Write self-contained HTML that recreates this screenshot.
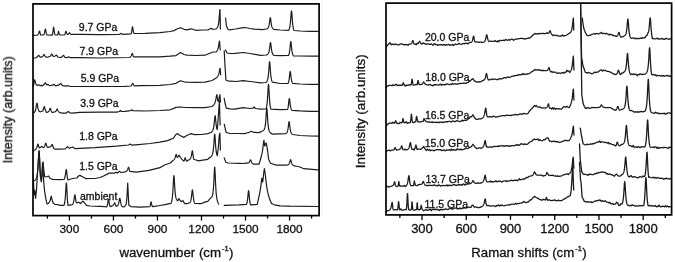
<!DOCTYPE html>
<html><head><meta charset="utf-8"><style>
html,body{margin:0;padding:0;background:#fff;width:675px;height:262px;overflow:hidden}
svg{display:block}
text{font-family:"Liberation Sans",sans-serif}
</style></head><body>
<svg width="675" height="262" viewBox="0 0 675 262">
<rect width="675" height="262" fill="#fff"/>
<defs>
<clipPath id="cl"><rect x="33.0" y="3.9" width="286.1" height="211.7"/></clipPath>
<clipPath id="cr"><rect x="386.0" y="3.1" width="285.6" height="211.8"/></clipPath>
</defs>
<g fill="none" stroke="#1c1c1c" stroke-width="1.2" stroke-linejoin="round" stroke-linecap="round">
<g clip-path="url(#cl)">
<polyline points="33.00,35.30 37.00,35.20 37.21,35.10 37.41,34.97 37.62,34.81 37.82,34.62 38.03,34.38 38.23,34.08 38.44,33.70 38.64,33.23 38.85,32.66 39.06,32.02 39.26,31.41 39.47,30.99 39.67,30.98 39.88,31.94 40.08,33.14 40.29,34.04 40.49,34.62 40.70,35.00 43.60,35.00 43.81,34.68 44.02,34.25 44.24,33.69 44.45,32.95 44.66,32.01 44.88,30.90 45.09,29.81 45.30,29.09 45.51,29.15 45.73,30.06 45.94,31.33 46.15,32.51 46.36,33.44 46.58,34.12 46.79,34.63 47.00,35.00 52.20,35.10 52.40,34.56 52.60,33.82 52.80,32.79 53.00,31.38 53.20,29.63 53.40,27.95 53.60,27.20 53.80,27.77 54.00,29.15 54.20,30.71 54.40,32.08 54.60,33.15 54.80,33.96 55.00,34.55 55.20,35.00 57.50,35.00 57.71,34.60 57.92,33.96 58.13,32.95 58.34,31.75 58.55,31.32 58.75,31.91 58.96,32.86 59.17,33.69 59.38,34.30 59.59,34.71 59.80,35.00 64.30,35.00 64.51,34.77 64.71,34.46 64.92,34.05 65.12,33.52 65.33,32.84 65.54,32.09 65.74,31.48 65.95,31.31 66.16,31.63 66.36,32.25 66.57,32.89 66.77,33.45 66.98,33.88 67.19,34.20 67.39,34.43 67.60,34.60 68.70,33.80 69.60,32.70 70.40,34.00 71.50,34.30 80.00,34.40 100.00,34.60 119.00,34.50 121.20,33.40 123.00,34.40 131.00,33.80 131.20,33.35 131.40,32.74 131.60,31.92 131.80,30.81 132.00,29.42 132.20,27.93 132.40,26.86 132.60,26.84 132.80,27.87 133.00,29.32 133.20,30.67 133.40,31.74 133.60,32.52 133.80,33.09 134.00,33.50 145.00,33.30 160.00,32.60 170.00,31.50 174.00,30.60 177.00,29.00 180.50,27.70 184.00,29.30 187.00,29.90 191.30,28.80 195.60,30.30 203.00,30.00 208.00,30.00 209.60,29.00 211.10,28.20 212.60,29.30 215.70,29.00 215.90,28.90 216.11,28.78 216.31,28.65 216.52,28.49 216.72,28.30 216.93,28.09 217.13,27.83 217.33,27.52 217.54,27.14 217.74,26.68 217.95,26.11 218.15,25.40 218.36,24.50 218.56,23.36 218.77,21.91 218.97,20.09 219.17,17.84 219.38,15.23 219.58,12.55 219.79,10.39 219.99,9.50 220.20,18.59 220.40,29.00"/>
<polyline points="225.60,18.00 226.40,26.00 227.90,29.30 229.40,29.80 235.50,29.00 241.60,27.80 245.00,27.50 250.00,28.50 254.00,29.20 258.50,29.40 262.00,29.60 266.50,29.00 266.70,28.93 266.91,28.84 267.11,28.73 267.31,28.60 267.51,28.45 267.72,28.26 267.92,28.03 268.12,27.74 268.32,27.39 268.53,26.94 268.73,26.37 268.93,25.64 269.14,24.72 269.34,23.56 269.54,22.16 269.74,20.58 269.95,19.05 270.15,17.97 270.35,17.74 270.55,18.46 270.76,19.85 270.96,21.48 271.16,23.01 271.36,24.32 271.57,25.38 271.77,26.22 271.97,26.88 272.18,27.41 272.38,27.83 272.58,28.17 272.78,28.45 272.99,28.68 273.19,28.88 273.39,29.04 273.59,29.18 273.80,29.30 274.00,29.40 280.00,30.00 288.60,30.30 288.81,29.98 289.02,29.59 289.22,29.11 289.43,28.51 289.64,27.76 289.85,26.80 290.05,25.59 290.26,24.03 290.47,22.06 290.68,19.63 290.88,16.80 291.09,13.91 291.30,11.64 291.51,10.80 291.72,11.82 291.92,14.27 292.13,17.30 292.34,20.22 292.55,22.72 292.75,24.75 292.96,26.35 293.17,27.60 293.38,28.59 293.58,29.37 293.79,29.99 294.00,30.50 300.00,31.00 310.00,31.30 318.00,31.40"/>
<polyline points="33.00,58.00 36.00,57.80 37.50,56.50 38.80,55.30 40.20,57.20 40.40,57.18 40.61,57.16 40.81,57.13 41.01,57.10 41.21,57.06 41.42,57.01 41.62,56.94 41.82,56.87 42.03,56.77 42.23,56.65 42.43,56.50 42.63,56.30 42.84,56.05 43.04,55.74 43.24,55.38 43.44,55.00 43.65,54.67 43.85,54.51 44.05,54.57 44.26,54.84 44.46,55.21 44.66,55.60 44.86,55.94 45.07,56.22 45.27,56.45 45.47,56.63 45.67,56.77 45.88,56.89 46.08,56.98 46.28,57.05 46.49,57.11 46.69,57.16 46.89,57.21 47.09,57.24 47.30,57.27 47.50,57.30 50.30,56.20 51.80,54.10 53.30,56.50 55.20,56.00 56.50,55.10 57.80,57.00 61.00,57.60 62.50,56.20 63.60,55.30 64.80,57.30 67.50,57.60 68.80,56.80 70.00,57.60 80.00,57.70 100.00,58.00 129.50,57.50 129.70,57.40 129.91,57.29 130.11,57.15 130.32,57.00 130.52,56.81 130.73,56.58 130.93,56.30 131.14,55.95 131.34,55.52 131.55,55.01 131.75,54.44 131.96,53.89 132.16,53.50 132.37,53.42 132.57,53.88 132.78,54.63 132.98,55.35 133.19,55.91 133.39,56.31 133.60,56.60 133.80,56.80 140.00,56.90 159.80,56.90 170.00,56.20 176.00,55.60 180.50,52.50 184.00,54.50 187.00,55.10 195.60,55.50 205.00,55.20 213.00,52.00 216.20,51.90 216.41,51.70 216.61,51.48 216.81,51.23 217.02,50.95 217.22,50.63 217.43,50.25 217.63,49.81 217.84,49.28 218.04,48.62 218.25,47.82 218.46,46.82 218.66,45.62 218.87,44.23 219.07,42.80 219.28,41.60 219.48,41.01 219.69,42.98 219.89,46.53 220.09,48.79 220.30,50.00"/>
<polyline points="225.50,50.00 227.00,53.00 230.00,53.50 235.00,53.30 243.20,52.50 250.00,53.50 260.50,55.30 266.00,55.00 266.20,54.95 266.40,54.90 266.60,54.83 266.80,54.76 267.00,54.67 267.20,54.56 267.40,54.43 267.60,54.28 267.80,54.10 268.00,53.88 268.20,53.60 268.40,53.27 268.60,52.84 268.80,52.31 269.00,51.64 269.20,50.79 269.40,49.71 269.60,48.38 269.80,46.79 270.00,45.07 270.20,43.50 270.40,42.53 270.60,42.54 270.80,43.56 271.00,45.20 271.20,47.00 271.40,48.65 271.60,50.05 271.80,51.18 272.00,52.08 272.20,52.79 272.40,53.36 272.60,53.81 272.80,54.18 273.00,54.48 273.20,54.73 273.40,54.94 273.60,55.12 273.80,55.27 274.00,55.40 280.00,55.60 288.50,55.50 288.70,55.08 288.90,54.55 289.10,53.89 289.30,53.05 289.50,51.98 289.70,50.64 289.90,48.97 290.10,46.99 290.30,44.83 290.50,42.87 290.70,41.66 290.90,41.67 291.10,42.85 291.30,44.75 291.50,46.83 291.70,48.75 291.90,50.37 292.10,51.68 292.30,52.72 292.50,53.55 292.70,54.20 292.90,54.73 293.10,55.16 293.30,55.51 293.50,55.80 300.00,56.00 310.00,56.20 318.00,56.20"/>
<polyline points="33.20,86.00 33.40,85.56 33.61,84.94 33.81,84.09 34.02,82.94 34.22,81.53 34.43,80.25 34.63,79.80 34.84,80.13 35.04,80.84 35.25,81.69 35.45,82.51 35.66,83.20 35.86,83.75 36.07,84.18 36.27,84.51 36.48,84.77 36.68,84.97 36.89,85.12 37.09,85.24 37.30,85.33 37.50,85.40 38.80,84.80 40.00,85.60 41.30,85.40 42.50,85.80 44.50,84.00 45.50,82.70 46.60,84.80 48.10,84.40 49.50,85.60 50.60,85.50 52.50,85.20 54.00,84.40 55.50,85.80 58.50,85.20 60.70,83.50 62.50,85.60 66.00,86.20 68.20,85.70 70.00,86.30 100.00,86.50 125.00,86.40 131.00,86.00 132.70,83.30 134.20,85.80 140.00,85.60 159.80,85.40 170.00,84.50 176.00,83.30 180.50,80.70 184.00,81.80 187.00,82.20 195.60,82.40 205.00,82.20 212.00,80.50 216.20,77.90 216.40,77.72 216.60,77.54 216.80,77.35 217.00,77.14 217.20,76.92 217.40,76.68 217.60,76.42 217.80,76.13 218.00,75.80 218.20,75.42 218.40,74.98 218.60,74.46 218.80,73.83 219.00,73.08 219.20,72.17 219.40,71.11 219.60,69.98 219.80,68.94 220.00,68.24 220.20,68.73 220.40,71.80 220.60,73.94 220.80,75.00"/>
<polyline points="224.20,50.80 224.80,62.00 225.90,80.00 228.00,81.00 230.20,81.10 236.00,81.50 243.20,80.70 250.00,81.50 260.50,82.80 266.00,82.50 266.20,82.31 266.41,82.09 266.61,81.83 266.81,81.52 267.02,81.14 267.22,80.70 267.42,80.15 267.62,79.47 267.83,78.62 268.03,77.55 268.23,76.20 268.44,74.49 268.64,72.35 268.84,69.76 269.05,66.86 269.25,64.05 269.45,62.08 269.66,61.67 269.86,63.05 270.06,65.67 270.27,68.69 270.47,71.54 270.67,73.95 270.88,75.90 271.08,77.45 271.28,78.66 271.48,79.61 271.69,80.37 271.89,80.98 272.09,81.47 272.30,81.87 272.50,82.20 280.00,83.50 288.00,83.50 288.20,83.07 288.40,82.55 288.60,81.89 288.80,81.05 289.00,80.00 289.20,78.69 289.40,77.09 289.60,75.26 289.80,73.42 290.00,71.97 290.20,71.40 290.40,71.93 290.60,73.33 290.80,75.10 291.00,76.86 291.20,78.40 291.40,79.66 291.60,80.67 291.80,81.46 292.00,82.09 292.20,82.58 292.40,82.98 292.60,83.30 300.00,84.00 310.00,84.30 318.00,84.30"/>
<polyline points="33.20,113.20 33.40,113.09 33.61,112.96 33.81,112.81 34.01,112.65 34.21,112.46 34.42,112.25 34.62,111.99 34.82,111.68 35.03,111.30 35.23,110.84 35.43,110.27 35.63,109.55 35.84,108.65 36.04,107.56 36.24,106.27 36.44,104.92 36.65,103.75 36.85,103.13 37.05,103.30 37.26,104.17 37.46,105.40 37.66,106.66 37.86,107.79 38.07,108.71 38.27,109.43 38.47,110.00 38.67,110.44 38.88,110.78 39.08,111.04 39.28,111.24 39.49,111.40 39.69,111.53 39.89,111.62 40.09,111.70 40.30,111.76 40.50,111.80 42.80,111.00 43.60,108.50 44.30,106.50 45.20,109.50 46.40,112.40 46.60,112.37 46.80,112.33 47.00,112.29 47.20,112.24 47.40,112.19 47.60,112.12 47.80,112.04 48.00,111.94 48.20,111.83 48.40,111.68 48.60,111.50 48.80,111.27 49.00,110.99 49.20,110.63 49.40,110.19 49.60,109.66 49.80,109.09 50.00,108.57 50.20,108.25 50.40,108.27 50.60,108.77 50.80,109.52 51.00,110.27 51.20,110.91 51.40,111.41 51.60,111.79 51.80,112.08 52.00,112.30 55.00,111.80 55.20,111.71 55.40,111.59 55.60,111.43 55.80,111.22 56.00,110.94 56.20,110.59 56.40,110.16 56.60,109.69 56.80,109.27 57.00,109.02 57.20,109.05 57.40,109.34 57.60,109.77 57.80,110.24 58.00,110.68 58.20,111.06 58.40,111.37 58.60,111.62 58.80,111.83 59.00,112.01 59.20,112.15 59.40,112.28 59.60,112.39 59.80,112.49 60.00,112.58 60.20,112.66 60.40,112.73 60.60,112.80 60.80,112.87 61.00,112.93 61.20,112.99 61.40,113.04 61.60,113.10 61.80,113.15 62.00,113.20 66.10,113.20 68.20,111.50 70.00,112.80 72.00,113.20 80.00,112.40 80.00,112.30 100.00,112.20 116.50,112.20 119.50,111.50 120.40,110.50 121.50,111.50 125.00,111.30 130.50,110.60 131.70,109.90 133.00,110.60 145.00,111.00 159.80,110.50 170.00,109.80 173.80,108.40 176.00,107.40 180.50,107.00 185.00,107.50 195.60,107.70 205.00,107.60 212.00,106.50 212.20,106.31 212.41,106.12 212.61,105.92 212.81,105.72 213.02,105.51 213.22,105.29 213.42,105.07 213.63,104.83 213.83,104.57 214.03,104.30 214.24,104.00 214.44,103.67 214.64,103.31 214.85,102.89 215.05,102.41 215.25,101.84 215.45,101.17 215.66,100.35 215.86,99.37 216.06,98.23 216.27,96.97 216.47,95.78 216.67,94.93 216.88,94.75 217.08,95.72 217.28,97.29 217.49,98.77 217.69,99.91 217.89,100.71 218.10,101.25 218.30,101.60 219.90,94.70 220.60,102.00"/>
<polyline points="224.20,98.40 225.00,103.00 226.30,108.10 230.00,108.80 234.60,109.20 243.20,107.70 250.00,108.50 253.00,108.10 254.00,107.00 255.50,108.50 260.50,109.20 266.00,109.00 266.20,108.39 266.41,107.63 266.61,106.69 266.82,105.50 267.02,103.99 267.23,102.06 267.43,99.62 267.63,96.61 267.84,93.05 268.04,89.28 268.25,86.04 268.45,84.37 268.65,84.98 268.86,87.63 269.06,91.32 269.27,95.11 269.47,98.46 269.67,101.23 269.88,103.43 270.08,105.17 270.29,106.54 270.49,107.63 270.70,108.50 270.90,109.20 280.00,109.60 287.50,109.50 287.71,108.93 287.92,108.17 288.13,107.17 288.34,105.84 288.55,104.14 288.76,102.11 288.97,100.06 289.18,98.64 289.39,98.51 289.60,99.51 289.80,101.16 290.01,102.96 290.22,104.61 290.43,105.98 290.64,107.08 290.85,107.95 291.06,108.64 291.27,109.19 291.48,109.64 291.69,110.00 291.90,110.30 300.00,110.90 310.00,111.30 318.00,111.40"/>
<polyline points="33.20,151.00 33.41,150.88 33.61,150.76 33.82,150.63 34.03,150.50 34.23,150.37 34.44,150.23 34.65,150.09 34.85,149.94 35.06,149.78 35.27,149.61 35.47,149.42 35.68,149.22 35.89,148.99 36.09,148.74 36.30,148.44 36.51,148.09 36.71,147.67 36.92,147.17 37.13,146.57 37.33,145.88 37.54,145.15 37.75,144.51 37.95,144.13 38.16,144.30 38.37,145.13 38.57,146.07 38.78,146.83 38.99,147.35 39.19,147.69 39.40,147.90 41.00,147.00 41.80,146.60 43.40,147.60 43.60,147.47 43.80,147.32 44.00,147.13 44.20,146.89 44.40,146.60 44.60,146.23 44.80,145.76 45.00,145.20 45.20,144.56 45.40,143.91 45.60,143.40 45.80,143.20 46.00,143.44 46.20,144.06 46.40,144.82 46.60,145.53 46.80,146.11 47.00,146.57 47.20,146.92 47.40,147.19 47.60,147.40 49.30,147.20 50.80,146.50 51.60,145.00 52.30,144.50 53.20,147.00 54.00,148.70 55.20,149.10 60.00,149.20 65.30,149.00 66.50,147.50 67.60,146.60 68.50,147.80 69.50,148.30 71.00,147.50 72.90,147.00 74.00,148.00 75.40,148.60 80.00,148.30 94.90,147.70 116.50,146.20 128.50,145.00 130.20,144.00 132.00,145.20 138.20,144.70 150.00,143.50 159.80,142.20 167.60,140.60 173.30,138.30 175.50,135.00 177.20,133.60 180.00,135.50 183.80,137.40 186.70,135.50 189.00,134.50 191.50,133.60 194.30,134.70 201.90,134.50 207.70,133.60 211.50,132.20 211.70,131.99 211.90,131.75 212.10,131.48 212.30,131.19 212.50,130.85 212.70,130.45 212.90,129.99 213.10,129.44 213.30,128.78 213.50,127.97 213.70,126.97 213.90,125.72 214.10,124.18 214.30,122.33 214.50,120.22 214.70,118.09 214.90,116.41 215.10,115.70 215.30,116.31 215.50,118.02 215.70,120.22 215.90,122.39 216.10,124.29 216.30,125.83 216.50,127.04 216.70,127.98 216.90,128.71 217.10,129.27 217.30,129.70 218.20,118.00 219.40,100.50 220.10,125.00"/>
<polyline points="224.30,124.30 225.50,130.00 226.30,132.50 230.00,133.50 238.90,133.50 244.80,133.60 246.70,133.00 249.20,132.30 251.50,131.30 253.40,132.30 259.10,132.60 262.90,130.70 263.10,130.59 263.31,130.46 263.51,130.29 263.71,130.08 263.91,129.82 264.12,129.51 264.32,129.11 264.52,128.61 264.73,127.99 264.93,127.20 265.13,126.19 265.33,124.90 265.54,123.25 265.74,121.15 265.94,118.54 266.15,115.48 266.35,112.24 266.55,109.50 266.75,108.14 266.96,108.77 267.16,111.17 267.36,114.49 267.57,117.90 267.77,120.92 267.97,123.43 268.17,125.44 268.38,127.03 268.58,128.30 268.78,129.32 268.99,130.15 269.19,130.82 269.39,131.38 269.59,131.85 269.80,132.25 270.00,132.60 272.40,134.20 285.80,133.60 286.00,133.49 286.21,133.35 286.41,133.17 286.61,132.96 286.82,132.69 287.02,132.35 287.22,131.92 287.42,131.37 287.63,130.68 287.83,129.78 288.03,128.65 288.24,127.23 288.44,125.57 288.64,123.81 288.85,122.30 289.05,121.53 289.25,121.83 289.45,123.07 289.66,124.81 289.86,126.60 290.06,128.19 290.27,129.51 290.47,130.57 290.67,131.42 290.88,132.09 291.08,132.62 291.28,133.06 291.48,133.41 291.69,133.71 291.89,133.95 292.09,134.16 292.30,134.34 292.50,134.50 300.00,135.50 310.00,136.00 318.00,136.20"/>
<polyline points="33.00,181.00 35.00,180.50 35.20,180.24 35.41,179.96 35.61,179.64 35.81,179.29 36.02,178.89 36.22,178.42 36.42,177.89 36.63,177.26 36.83,176.51 37.04,175.61 37.24,174.50 37.44,173.13 37.65,171.42 37.85,169.27 38.05,166.58 38.26,163.28 38.46,159.45 38.66,155.46 38.87,152.13 39.07,150.54 39.28,152.03 39.48,156.78 39.68,162.45 39.89,167.46 40.09,171.38 40.29,174.29 40.50,176.43 40.70,178.00 41.80,176.00 42.50,168.00 43.10,162.00 43.80,170.00 44.70,176.70 46.00,177.00 47.50,176.50 48.70,176.00 50.00,178.50 53.00,179.40 60.00,179.60 64.00,179.50 64.20,179.21 64.40,178.83 64.60,178.36 64.80,177.76 65.00,177.00 65.20,176.02 65.40,174.81 65.60,173.37 65.80,171.81 66.00,170.38 66.20,169.51 66.40,169.59 66.60,170.88 66.80,172.80 67.00,174.73 67.20,176.38 67.40,177.67 67.60,178.66 67.80,179.42 68.00,180.00 72.40,178.50 76.80,178.00 78.50,176.00 80.00,175.40 82.00,176.50 86.20,178.70 90.00,178.50 94.90,178.50 100.00,177.50 104.00,175.80 109.40,173.10 114.70,173.10 116.20,172.20 117.40,173.10 119.20,171.30 121.00,172.50 123.70,172.20 123.90,172.16 124.11,172.11 124.31,172.06 124.51,172.01 124.72,171.96 124.92,171.90 125.12,171.83 125.33,171.76 125.53,171.69 125.73,171.60 125.94,171.51 126.14,171.40 126.34,171.27 126.55,171.11 126.75,170.93 126.95,170.71 127.15,170.44 127.36,170.09 127.56,169.67 127.76,169.16 127.97,168.57 128.17,167.96 128.37,167.45 128.58,167.21 128.78,167.51 128.98,168.39 129.19,169.34 129.39,170.10 129.59,170.65 129.80,171.03 130.00,171.30 136.30,172.20 148.90,170.40 160.00,167.70 164.40,165.00 170.30,163.00 173.30,160.30 173.51,160.09 173.72,159.87 173.93,159.64 174.14,159.37 174.35,159.08 174.56,158.75 174.77,158.36 174.98,157.90 175.19,157.36 175.40,156.72 175.61,156.01 175.82,155.30 176.03,154.73 176.24,154.49 176.45,154.96 176.66,155.81 176.87,156.54 177.08,157.04 177.29,157.34 177.50,157.50 179.10,155.10 180.50,157.50 181.90,159.30 183.80,161.20 184.01,160.96 184.21,160.63 184.42,160.15 184.63,159.50 184.84,158.71 185.04,158.00 185.25,157.82 185.46,158.25 185.66,158.98 185.87,159.69 186.08,160.26 186.29,160.68 186.49,160.98 186.70,161.20 188.60,160.00 188.80,159.91 189.01,159.80 189.21,159.69 189.42,159.55 189.62,159.40 189.82,159.22 190.03,159.00 190.23,158.75 190.43,158.43 190.64,158.05 190.84,157.57 191.05,156.97 191.25,156.21 191.45,155.27 191.66,154.14 191.86,152.89 192.07,151.69 192.27,150.88 192.47,150.79 192.68,151.98 192.88,153.84 193.08,155.61 193.29,157.00 193.49,158.03 193.70,158.77 193.90,159.30 198.10,160.80 207.70,159.30 211.10,156.50 211.30,156.28 211.50,156.04 211.70,155.75 211.90,155.41 212.10,155.01 212.30,154.53 212.50,153.96 212.70,153.25 212.90,152.37 213.10,151.27 213.30,149.90 213.50,148.16 213.70,146.00 213.90,143.37 214.10,140.36 214.30,137.33 214.50,134.94 214.70,134.00 214.90,134.95 215.10,137.44 215.30,140.62 215.50,143.77 215.70,146.52 215.90,148.77 216.10,150.57 216.30,151.98 216.50,153.10 216.70,153.98 216.90,154.68 217.10,155.24 217.30,155.70 218.30,148.00 219.20,136.00 219.90,133.00 220.40,150.00"/>
<polyline points="224.20,157.90 225.90,162.20 228.00,163.00 238.90,163.30 243.20,163.50 245.70,163.20 245.90,163.21 246.11,163.22 246.31,163.22 246.51,163.22 246.71,163.22 246.92,163.21 247.12,163.20 247.32,163.18 247.52,163.16 247.73,163.13 247.93,163.08 248.13,163.02 248.33,162.94 248.54,162.83 248.74,162.70 248.94,162.52 249.14,162.29 249.35,161.98 249.55,161.60 249.75,161.13 249.96,160.61 250.16,160.10 250.36,159.76 250.56,159.73 250.77,160.03 250.97,160.57 251.17,161.19 251.37,161.77 251.58,162.26 251.78,162.67 251.98,162.99 252.18,163.26 252.39,163.47 252.59,163.64 252.79,163.79 252.99,163.91 253.20,164.01 253.40,164.10 259.10,164.10 259.30,163.42 259.51,162.74 259.71,162.05 259.91,161.36 260.12,160.66 260.32,159.95 260.53,159.23 260.73,158.49 260.93,157.74 261.14,156.97 261.34,156.18 261.54,155.35 261.75,154.48 261.95,153.56 262.15,152.57 262.36,151.49 262.56,150.29 262.76,148.94 262.97,147.41 263.17,145.71 263.38,143.90 263.58,142.16 263.78,140.80 263.99,140.40 264.19,142.51 264.39,144.57 264.60,145.64 264.80,146.00 265.60,143.50 266.30,143.10 267.00,147.00 267.70,151.70 268.60,159.30 270.50,163.20 276.30,165.10 285.80,165.10 286.00,165.10 286.20,165.09 286.41,165.08 286.61,165.07 286.81,165.05 287.01,165.03 287.21,165.00 287.42,164.96 287.62,164.91 287.82,164.85 288.02,164.77 288.23,164.66 288.43,164.53 288.63,164.37 288.83,164.16 289.03,163.89 289.24,163.54 289.44,163.10 289.64,162.54 289.84,161.86 290.04,161.09 290.25,160.34 290.45,159.82 290.65,159.72 290.85,160.09 291.06,160.79 291.26,161.61 291.46,162.38 291.66,163.04 291.86,163.58 292.07,164.02 292.27,164.36 292.47,164.64 292.67,164.86 292.87,165.04 293.08,165.20 293.28,165.33 293.48,165.43 293.68,165.53 293.89,165.61 294.09,165.69 294.29,165.75 294.49,165.81 294.69,165.86 294.90,165.91 295.10,165.96 295.30,166.00 300.00,167.00 303.80,168.70 318.00,169.80"/>
<polyline points="33.00,175.00 33.50,182.00 34.00,194.80 34.20,194.36 34.40,193.22 34.60,191.20 34.80,190.00 35.00,192.08 35.20,194.97 35.40,196.98 35.60,198.30 36.50,190.00 37.20,178.00 38.00,165.00 38.70,155.00 39.10,151.00 39.70,160.00 40.50,178.00 41.30,182.00 41.50,180.95 41.71,179.08 41.91,176.06 42.11,171.61 42.32,166.27 42.52,162.64 42.72,163.38 42.93,166.28 43.13,170.24 43.34,174.39 43.54,178.21 43.74,181.51 43.95,184.31 44.15,186.69 44.35,188.72 44.56,190.50 44.76,192.08 44.96,193.50 45.17,194.80 45.37,196.01 45.58,197.15 45.78,198.23 45.98,199.26 46.19,200.26 46.39,201.23 46.59,202.17 46.80,203.10 47.00,204.00 48.40,203.50 50.00,201.00 51.20,196.20 52.30,200.50 53.30,203.20 55.00,204.30 58.20,204.70 60.40,205.40 64.00,205.40 64.20,204.76 64.41,203.98 64.61,202.99 64.82,201.74 65.03,200.15 65.23,198.13 65.44,195.59 65.64,192.51 65.84,189.05 66.05,185.69 66.25,183.35 66.46,182.94 66.66,185.30 66.87,189.41 67.07,193.73 67.28,197.41 67.48,200.31 67.69,202.50 67.89,204.15 68.10,205.40 72.40,204.70 72.61,204.39 72.82,204.02 73.03,203.57 73.24,203.04 73.45,202.37 73.66,201.55 73.87,200.52 74.08,199.28 74.29,197.84 74.50,196.38 74.71,195.24 74.92,194.80 75.13,195.46 75.34,196.97 75.55,198.64 75.76,200.07 75.97,201.18 76.18,201.99 76.39,202.58 76.60,203.00 78.70,202.20 79.40,202.50 80.50,203.50 83.00,201.10 83.70,201.80 86.50,205.40 90.00,206.00 100.00,206.30 104.80,206.60 106.70,207.00 106.91,206.56 107.12,206.00 107.34,205.26 107.55,204.29 107.76,203.07 107.97,201.63 108.18,200.20 108.39,199.24 108.61,199.22 108.82,200.13 109.03,201.52 109.24,202.91 109.45,204.08 109.66,205.00 109.88,205.69 110.09,206.21 110.30,206.60 113.00,205.50 114.00,204.00 114.70,202.70 115.50,205.00 116.20,206.30 116.41,206.25 116.61,206.18 116.82,206.10 117.03,205.99 117.23,205.86 117.44,205.70 117.64,205.49 117.85,205.23 118.06,204.89 118.26,204.46 118.47,203.90 118.67,203.18 118.88,202.28 119.09,201.20 119.29,200.01 119.50,198.92 119.71,198.27 119.91,198.33 120.12,199.10 120.33,200.29 120.53,201.56 120.74,202.71 120.94,203.66 121.15,204.43 121.36,205.04 121.56,205.52 121.77,205.90 121.97,206.21 122.18,206.46 122.39,206.67 122.59,206.85 122.80,207.00 124.60,206.60 126.30,204.00 127.10,195.00 127.70,183.00 128.30,195.00 128.80,205.00 130.90,206.60 139.90,207.20 149.80,206.60 150.01,206.19 150.22,205.59 150.42,204.68 150.63,203.45 150.84,202.21 151.05,201.82 151.25,202.42 151.46,203.45 151.67,204.46 151.88,205.27 152.08,205.86 152.29,206.29 152.50,206.60 160.00,205.50 165.00,204.70 171.00,203.30 171.20,202.79 171.41,202.19 171.61,201.47 171.81,200.60 172.01,199.54 172.22,198.23 172.42,196.58 172.62,194.51 172.83,191.91 173.03,188.72 173.23,184.97 173.44,180.98 173.64,177.51 173.84,175.62 174.04,176.03 174.25,178.43 174.45,181.90 174.65,185.51 174.86,188.72 175.06,191.37 175.26,193.47 175.46,195.11 175.67,196.39 175.87,197.39 176.07,198.17 176.28,198.78 176.48,199.27 176.68,199.66 176.89,199.97 177.09,200.22 177.29,200.42 177.49,200.58 177.70,200.70 177.90,200.80 178.90,198.50 180.90,201.70 182.90,200.50 183.90,202.50 184.90,203.70 186.90,203.70 189.90,202.70 190.10,202.40 190.31,202.01 190.51,201.53 190.72,200.92 190.92,200.13 191.12,199.13 191.33,197.85 191.53,196.26 191.74,194.39 191.94,192.40 192.15,190.70 192.35,189.83 192.55,190.18 192.76,191.61 192.96,193.59 193.17,195.63 193.37,197.44 193.58,198.93 193.78,200.13 193.98,201.07 194.19,201.82 194.39,202.42 194.60,202.91 194.80,203.30 200.80,203.70 204.80,202.10 207.70,201.40 210.70,197.80 210.90,197.74 211.10,197.65 211.30,197.52 211.50,197.34 211.70,197.10 211.90,196.79 212.10,196.38 212.30,195.85 212.50,195.16 212.70,194.28 212.90,193.15 213.10,191.68 213.30,189.78 213.50,187.34 213.70,184.25 213.90,180.45 214.10,176.08 214.30,171.66 214.50,168.23 214.70,167.00 214.90,168.54 215.10,172.29 215.30,177.02 215.50,181.71 215.70,185.82 215.90,189.23 216.10,191.99 216.30,194.20 216.50,195.98 216.70,197.43 216.90,198.63 217.10,199.63 217.30,200.47 217.50,201.20 217.70,201.83 217.90,202.38 218.10,202.88 218.30,203.32 218.50,203.73 218.70,204.10"/>
<polyline points="224.20,205.40 238.90,204.80 246.50,204.30 246.70,203.77 246.90,203.10 247.10,202.26 247.30,201.18 247.50,199.81 247.70,198.11 247.90,196.09 248.10,193.89 248.30,191.89 248.50,190.66 248.70,190.71 248.90,192.13 249.10,194.38 249.30,196.77 249.50,198.93 249.70,200.71 249.90,202.12 250.10,203.23 250.30,204.11 250.50,204.80 257.20,204.50 257.40,203.61 257.61,202.71 257.81,201.82 258.02,200.91 258.22,200.00 258.42,199.08 258.63,198.16 258.83,197.22 259.03,196.27 259.24,195.30 259.44,194.32 259.65,193.30 259.85,192.25 260.05,191.15 260.26,189.99 260.46,188.75 260.67,187.41 260.87,185.95 261.07,184.35 261.28,182.63 261.48,180.89 261.68,179.31 261.89,178.15 262.09,179.63 262.30,181.54 262.50,182.00 262.90,181.00 263.60,174.00 264.40,168.60 265.20,174.00 265.80,179.10 266.70,186.50 267.70,192.40 269.60,199.10 271.50,203.50 274.40,204.80 280.00,205.80 290.00,206.20 318.00,206.50"/>
</g>
<g clip-path="url(#cr)" stroke-width="1.3">
<polyline points="386.20,46.40 387.30,45.68 388.40,44.20 389.90,42.70 391.20,44.80 392.14,44.14 393.08,44.33 394.02,44.65 394.96,43.99 395.90,44.30 396.87,44.47 397.83,44.77 398.80,44.90 399.80,44.27 400.80,43.78 401.80,44.00 402.90,44.30 404.00,44.85 405.10,44.42 406.20,44.90 407.12,44.59 408.05,45.21 408.97,44.15 409.90,44.20 410.10,44.14 410.31,44.08 410.51,44.00 410.72,43.90 410.92,43.77 411.13,43.62 411.33,43.42 411.54,43.17 411.74,42.85 411.95,42.46 412.15,41.97 412.36,41.44 412.56,40.92 412.77,40.57 412.97,40.56 413.18,41.21 413.38,42.14 413.59,42.94 413.79,43.52 414.00,43.92 414.20,44.20 415.18,43.84 416.15,44.86 417.12,43.14 418.10,43.60 419.60,41.30 421.00,43.80 421.93,44.04 422.85,42.85 423.77,43.34 424.70,43.50 425.62,44.28 426.55,44.34 427.47,43.66 428.40,44.20 429.33,44.07 430.26,44.33 431.19,43.85 432.12,44.62 433.06,45.34 433.99,43.96 434.92,43.76 435.85,44.72 436.78,44.60 437.71,45.42 438.64,44.69 439.57,44.78 440.51,44.77 441.44,44.50 442.37,45.22 443.30,45.00 444.23,44.42 445.15,45.37 446.07,44.85 447.00,45.00 447.93,44.53 448.85,44.33 449.78,45.37 450.70,44.79 451.62,45.03 452.55,44.57 453.48,45.49 454.40,44.54 455.33,43.94 456.25,44.61 457.18,44.42 458.10,44.20 459.09,43.19 460.08,44.00 461.07,44.36 462.06,44.21 463.04,43.68 464.03,43.25 465.02,43.85 466.01,43.12 467.00,43.50 468.10,43.75 469.20,42.83 470.30,42.31 471.40,42.40 471.61,42.16 471.81,41.87 472.02,41.50 472.22,41.04 472.43,40.46 472.63,39.74 472.84,38.87 473.04,37.89 473.25,36.94 473.46,36.27 473.66,36.14 473.87,36.92 474.07,38.20 474.28,39.43 474.48,40.41 474.69,41.12 474.89,41.63 475.10,42.00 476.03,41.87 476.95,41.88 477.88,42.08 478.80,42.40 479.84,42.03 480.88,42.09 481.92,42.26 482.96,42.32 484.00,42.00 484.20,41.84 484.40,41.65 484.60,41.43 484.80,41.15 485.00,40.81 485.20,40.38 485.40,39.85 485.60,39.19 485.80,38.37 486.00,37.40 486.20,36.35 486.40,35.39 486.60,34.79 486.80,34.77 487.00,35.36 487.20,36.32 487.40,37.38 487.60,38.35 487.80,39.17 488.00,39.82 488.20,40.34 488.40,40.74 488.60,41.06 488.80,41.30 489.00,41.50 490.00,41.04 491.00,41.09 492.00,41.29 493.00,41.47 494.00,41.47 495.00,40.60 496.00,41.40 496.97,41.95 497.95,40.79 498.92,41.74 499.89,40.35 500.86,40.38 501.84,40.54 502.81,40.42 503.78,40.07 504.75,40.55 505.73,39.41 506.70,40.00 507.71,40.33 508.72,39.50 509.74,40.24 510.75,39.49 511.76,39.00 512.77,39.65 513.79,40.28 514.80,39.30 515.80,39.20 516.80,39.19 517.80,38.92 518.80,38.65 519.80,38.62 520.80,38.32 521.80,38.21 522.80,38.70 523.76,38.66 524.71,39.21 525.67,38.69 526.63,38.60 527.59,38.44 528.54,37.93 529.50,38.20 530.75,37.17 532.00,36.00 532.93,34.96 533.87,34.64 534.80,33.40 535.74,33.94 536.68,34.00 537.62,33.70 538.56,34.02 539.50,33.39 540.44,33.66 541.38,33.67 542.32,33.44 543.26,33.44 544.20,33.90 545.20,33.42 546.20,33.47 547.20,32.76 548.20,33.40 548.40,33.30 548.60,33.15 548.80,32.94 549.00,32.64 549.20,32.25 549.40,31.77 549.60,31.25 549.80,30.83 550.00,30.70 550.20,30.92 550.40,31.38 550.60,31.94 550.80,32.51 551.00,33.01 551.20,33.43 551.40,33.78 551.60,34.07 551.80,34.31 552.00,34.52 552.20,34.70 553.20,35.68 554.20,35.11 555.20,35.21 556.20,35.60 557.20,35.45 558.20,35.87 559.20,36.03 560.20,36.00 561.28,36.19 562.36,34.91 563.44,36.12 564.52,35.66 565.60,35.50 566.90,35.00 568.20,34.00 569.55,33.18 570.90,32.00 571.11,31.55 571.31,31.02 571.52,30.40 571.73,29.65 571.94,28.74 572.14,27.62 572.35,26.23 572.56,24.55 572.76,22.60 572.97,20.59 573.18,18.91 573.39,18.11 573.59,23.53 573.80,30.00"/>
<polyline points="582.30,18.10 583.00,24.00 583.90,28.60 585.30,32.40 586.70,35.00 587.65,35.59 588.60,35.73 589.55,35.25 590.50,35.30 591.70,34.44 592.90,34.20 593.96,33.72 595.02,34.13 596.08,33.67 597.14,33.47 598.20,34.00 599.30,33.55 600.40,32.99 601.50,32.40 602.00,33.40 602.91,33.71 603.82,33.21 604.73,33.67 605.64,33.73 606.56,33.24 607.47,34.15 608.38,34.15 609.29,35.07 610.20,34.20 611.13,34.58 612.06,34.74 612.99,35.59 613.91,35.48 614.84,36.06 615.77,35.85 616.70,36.30 616.90,36.19 617.11,36.04 617.31,35.83 617.52,35.56 617.72,35.21 617.93,34.75 618.13,34.19 618.34,33.54 618.54,32.92 618.75,32.49 618.95,32.43 619.16,32.79 619.36,33.44 619.57,34.19 619.77,34.89 619.98,35.50 620.18,35.99 620.39,36.39 620.59,36.72 620.80,36.98 621.00,37.20 622.00,36.89 623.00,36.81 624.00,36.00 624.20,35.93 624.41,35.84 624.61,35.73 624.81,35.59 625.02,35.41 625.22,35.18 625.42,34.89 625.62,34.53 625.83,34.07 626.03,33.47 626.23,32.72 626.44,31.74 626.64,30.49 626.84,28.89 627.05,26.90 627.25,24.57 627.45,22.10 627.65,20.03 627.86,19.02 628.06,19.56 628.26,21.49 628.47,24.12 628.67,26.81 628.87,29.20 629.08,31.18 629.28,32.77 629.48,34.03 629.68,35.04 629.89,35.86 630.09,36.52 630.29,37.06 630.50,37.52 630.70,37.90 631.62,38.28 632.53,38.15 633.45,37.77 634.37,38.48 635.28,38.43 636.20,38.50 637.16,38.72 638.11,38.45 639.07,38.74 640.02,38.21 640.98,38.25 641.93,38.37 642.89,37.60 643.84,37.81 644.80,37.90 645.87,36.07 646.93,35.43 648.00,33.00 648.21,32.60 648.42,32.03 648.63,31.24 648.84,30.15 649.05,28.68 649.26,26.77 649.47,24.40 649.68,21.73 649.89,19.27 650.10,17.81 650.30,18.07 650.51,20.05 650.72,23.04 650.93,26.23 651.14,29.13 651.35,31.56 651.56,33.55 651.77,35.17 651.98,36.48 652.19,37.58 652.40,38.50 653.35,38.51 654.30,38.86 655.25,38.90 656.20,38.59 657.15,38.13 658.10,39.19 659.05,38.69 660.00,38.90 660.92,39.19 661.83,38.38 662.75,38.72 663.67,39.40 664.58,39.47 665.50,38.38 666.42,38.37 667.33,38.88 668.25,39.19 669.17,38.96 670.08,39.02 671.00,38.90"/>
<polyline points="386.20,87.50 387.30,86.17 388.40,85.60 389.31,85.39 390.23,85.30 391.14,85.39 392.06,85.77 392.97,84.77 393.89,85.29 394.80,85.40 395.40,84.60 395.90,84.20 396.40,84.60 397.20,85.50 398.24,85.25 399.28,85.03 400.32,85.27 401.36,85.26 402.40,85.20 403.00,83.50 403.30,82.70 403.70,83.50 404.40,85.20 405.34,86.16 406.29,85.26 407.23,85.11 408.17,85.43 409.11,84.64 410.06,84.79 411.00,85.00 411.21,84.43 411.42,83.54 411.63,82.19 411.84,80.40 412.05,79.07 412.25,79.47 412.46,81.01 412.67,82.58 412.88,83.72 413.09,84.49 413.30,85.00 414.30,85.12 415.30,84.60 416.30,84.31 417.30,84.60 417.70,82.00 418.10,80.50 418.50,82.00 419.20,84.60 419.40,84.60 419.61,84.59 419.81,84.58 420.02,84.57 420.22,84.56 420.43,84.54 420.63,84.52 420.84,84.49 421.04,84.45 421.24,84.41 421.45,84.35 421.65,84.28 421.86,84.19 422.06,84.07 422.27,83.91 422.47,83.71 422.68,83.46 422.88,83.14 423.08,82.78 423.29,82.41 423.49,82.11 423.70,82.00 423.90,82.12 424.11,82.43 424.31,82.82 424.52,83.20 424.72,83.53 424.92,83.81 425.13,84.02 425.33,84.20 425.54,84.33 425.74,84.45 425.95,84.54 426.15,84.61 426.36,84.67 426.56,84.73 426.76,84.77 426.97,84.81 427.17,84.85 427.38,84.88 427.58,84.91 427.79,84.93 427.99,84.96 428.20,84.98 428.40,85.00 429.33,84.74 430.26,84.41 431.19,85.38 432.12,85.41 433.06,85.92 433.99,84.73 434.92,84.73 435.85,84.72 436.78,84.99 437.71,84.76 438.64,85.04 439.57,84.58 440.51,84.10 441.44,85.29 442.37,84.43 443.30,84.60 444.23,85.03 445.15,84.39 446.07,84.54 447.00,83.79 447.93,84.02 448.85,84.53 449.78,84.57 450.70,84.21 451.62,84.32 452.55,83.49 453.48,84.20 454.40,83.88 455.33,83.70 456.25,84.21 457.18,83.86 458.10,84.00 459.09,83.50 460.08,83.55 461.07,83.41 462.06,83.31 463.04,83.31 464.03,82.96 465.02,83.35 466.01,83.47 467.00,82.70 468.10,82.47 469.20,81.30 470.30,80.80 471.40,79.80 472.90,78.60 474.40,81.00 475.50,81.24 476.60,82.00 477.70,82.03 478.80,81.66 479.90,82.17 481.00,81.50 482.17,80.92 483.33,80.35 484.50,79.50 484.70,79.24 484.90,78.91 485.10,78.49 485.30,77.95 485.50,77.27 485.70,76.44 485.90,75.49 486.10,74.53 486.30,73.78 486.50,73.50 486.70,73.88 486.90,74.80 487.10,75.92 487.30,76.96 487.50,77.83 487.70,78.52 487.90,79.06 488.10,79.47 488.30,79.80 489.26,79.52 490.23,79.77 491.19,79.21 492.15,79.00 493.11,79.63 494.07,79.05 495.04,79.20 496.00,79.40 496.97,79.58 497.95,79.69 498.92,78.90 499.89,78.54 500.86,78.84 501.84,78.75 502.81,78.40 503.78,77.67 504.75,77.65 505.73,78.08 506.70,77.50 507.66,76.87 508.61,77.14 509.57,77.41 510.53,77.14 511.49,76.28 512.44,76.23 513.40,76.06 514.36,75.51 515.31,75.79 516.27,75.23 517.23,75.62 518.19,74.76 519.14,74.74 520.10,74.80 521.04,74.43 521.98,74.56 522.92,73.43 523.86,74.66 524.80,74.06 525.74,74.07 526.68,74.39 527.62,73.77 528.56,73.80 529.50,73.50 530.75,72.56 532.00,71.50 532.93,71.17 533.87,70.44 534.80,69.50 535.83,70.13 536.87,69.81 537.90,69.59 538.93,70.28 539.97,69.90 541.00,70.50 542.07,70.50 543.13,70.37 544.20,70.50 544.40,70.53 544.61,70.56 544.81,70.59 545.01,70.62 545.22,70.64 545.42,70.66 545.62,70.67 545.82,70.68 546.03,70.68 546.23,70.67 546.43,70.65 546.64,70.62 546.84,70.56 547.04,70.48 547.25,70.37 547.45,70.21 547.65,70.00 547.85,69.72 548.06,69.36 548.26,68.92 548.46,68.42 548.67,67.94 548.87,67.64 549.07,67.65 549.28,68.06 549.48,68.74 549.68,69.48 549.88,70.16 550.09,70.73 550.29,71.19 550.49,71.56 550.70,71.86 550.90,72.10 551.83,71.39 552.76,72.24 553.69,72.12 554.62,72.14 555.55,72.09 556.48,73.11 557.41,73.32 558.34,72.77 559.27,72.95 560.20,73.50 561.28,72.97 562.36,72.68 563.44,73.12 564.52,72.30 565.60,72.50 566.90,70.30 567.80,71.40 568.70,70.81 569.60,72.50 569.81,72.27 570.02,72.02 570.23,71.75 570.44,71.46 570.65,71.12 570.86,70.74 571.07,70.30 571.28,69.78 571.49,69.17 571.70,68.42 571.90,67.50 572.11,66.35 572.32,64.93 572.53,63.18 572.74,61.13 572.95,58.98 573.16,57.15 573.37,56.23 573.58,60.81 573.79,67.09 574.00,70.00"/>
<polyline points="580.60,3.00 581.60,57.30 583.00,66.00 584.15,68.71 585.30,72.40 586.25,72.69 587.20,73.07 588.15,72.61 589.10,72.42 590.05,73.06 591.00,73.42 591.95,73.80 592.90,73.50 593.86,72.61 594.81,72.18 595.77,72.58 596.72,72.09 597.68,72.11 598.63,71.49 599.59,70.66 600.54,70.19 601.50,69.90 602.47,71.16 603.43,70.25 604.40,70.29 605.37,70.38 606.33,71.10 607.30,71.36 608.27,71.40 609.23,71.74 610.20,72.00 611.28,72.63 612.36,73.32 613.44,74.00 614.52,74.16 615.60,74.60 615.80,74.52 616.00,74.43 616.20,74.32 616.40,74.18 616.60,74.00 616.80,73.79 617.00,73.51 617.20,73.16 617.40,72.72 617.60,72.19 617.80,71.58 618.00,70.97 618.20,70.49 618.40,70.30 618.60,70.50 618.80,71.02 619.00,71.67 619.20,72.32 619.40,72.89 619.60,73.36 619.80,73.74 620.00,74.03 620.20,74.26 620.40,74.45 620.60,74.60 621.73,73.02 622.87,73.15 624.00,72.00 624.20,71.89 624.41,71.74 624.61,71.56 624.81,71.32 625.02,71.01 625.22,70.62 625.42,70.12 625.62,69.48 625.83,68.65 626.03,67.59 626.23,66.21 626.44,64.45 626.64,62.25 626.84,59.66 627.05,56.92 627.25,54.59 627.45,53.43 627.65,53.97 627.86,56.02 628.06,58.86 628.26,61.77 628.47,64.36 628.67,66.51 628.87,68.24 629.08,69.63 629.28,70.74 629.48,71.63 629.68,72.36 629.89,72.97 630.09,73.47 630.29,73.90 630.50,74.28 630.70,74.60 631.64,74.01 632.58,74.48 633.52,73.93 634.46,74.49 635.40,74.16 636.34,74.53 637.28,75.73 638.22,74.37 639.16,74.70 640.10,73.80 641.04,74.19 641.98,74.54 642.92,74.22 643.86,74.37 644.80,74.20 645.00,74.11 645.21,74.01 645.41,73.89 645.61,73.75 645.81,73.60 646.02,73.41 646.22,73.19 646.42,72.93 646.63,72.62 646.83,72.25 647.03,71.80 647.24,71.25 647.44,70.58 647.64,69.73 647.84,68.67 648.05,67.33 648.25,65.63 648.45,63.47 648.66,60.76 648.86,57.50 649.06,53.87 649.26,50.41 649.47,48.08 649.67,47.77 649.87,49.91 650.08,53.73 650.28,58.05 650.48,62.08 650.69,65.50 650.89,68.25 651.09,70.43 651.29,72.15 651.50,73.51 651.70,74.60 652.62,74.76 653.54,74.44 654.47,75.19 655.39,74.76 656.31,75.96 657.23,75.13 658.16,75.73 659.08,75.58 660.00,75.70 660.92,76.08 661.83,75.46 662.75,76.10 663.67,75.65 664.58,76.21 665.50,75.95 666.42,75.76 667.33,75.39 668.25,76.01 669.17,75.89 670.08,76.36 671.00,75.70"/>
<polyline points="386.20,125.20 387.30,124.86 388.40,123.50 389.70,123.01 391.00,123.20 391.95,123.24 392.90,122.24 393.85,123.01 394.80,123.00 395.30,121.50 395.60,120.70 396.00,121.50 396.80,123.20 397.84,123.69 398.88,123.71 399.92,122.50 400.96,122.66 402.00,122.80 402.22,122.31 402.44,121.49 402.66,120.20 402.88,118.79 403.10,118.65 403.32,119.69 403.54,120.91 403.76,121.81 403.98,122.41 404.20,122.80 405.22,122.64 406.23,121.62 407.25,123.32 408.27,122.88 409.28,122.76 410.30,122.50 410.51,121.70 410.72,120.45 410.93,118.56 411.14,116.06 411.35,114.20 411.55,114.74 411.76,116.89 411.97,119.05 412.18,120.64 412.39,121.70 412.60,122.40 413.67,122.62 414.73,121.87 415.80,121.80 416.20,118.00 416.60,116.30 417.00,118.00 417.80,121.80 418.86,121.81 419.92,121.98 420.98,121.86 422.04,121.28 423.10,121.40 423.30,121.07 423.51,120.49 423.71,119.56 423.92,118.62 424.12,118.56 424.32,118.85 424.53,119.27 424.73,119.72 424.93,120.13 425.14,120.47 425.34,120.76 425.55,120.98 425.75,121.17 425.95,121.32 426.16,121.45 426.36,121.56 426.57,121.66 426.77,121.74 426.97,121.82 427.18,121.88 427.38,121.95 427.58,122.00 427.79,122.06 427.99,122.11 428.20,122.15 428.40,122.20 429.33,121.68 430.26,122.42 431.19,122.32 432.12,121.71 433.06,122.59 433.99,122.38 434.92,122.29 435.85,122.14 436.78,122.31 437.71,122.65 438.64,121.93 439.57,122.65 440.51,122.14 441.44,122.20 442.37,122.63 443.30,122.00 444.23,122.03 445.15,122.05 446.07,121.59 447.00,121.76 447.93,121.75 448.85,121.42 449.78,121.30 450.70,121.88 451.62,121.87 452.55,121.02 453.48,121.06 454.40,121.58 455.33,121.66 456.25,120.72 457.18,120.92 458.10,121.00 459.09,121.36 460.08,121.57 461.07,121.07 462.06,120.09 463.04,120.97 464.03,120.32 465.02,120.11 466.01,120.28 467.00,120.00 468.10,118.87 469.20,118.20 470.30,116.60 471.40,117.00 472.90,114.80 474.40,117.50 475.50,118.89 476.60,119.30 477.70,119.28 478.80,118.88 479.90,118.94 481.00,118.80 481.21,118.70 481.41,118.59 481.62,118.48 481.83,118.36 482.03,118.23 482.24,118.09 482.45,117.93 482.65,117.76 482.86,117.57 483.06,117.36 483.27,117.11 483.48,116.82 483.68,116.47 483.89,116.06 484.10,115.55 484.30,114.92 484.51,114.13 484.72,113.15 484.92,111.98 485.13,110.65 485.34,109.35 485.54,108.38 485.75,108.12 485.95,108.97 486.16,110.58 486.37,112.29 486.57,113.76 486.78,114.89 486.99,115.73 487.19,116.35 487.40,116.80 488.36,116.86 489.32,116.76 490.28,116.76 491.24,116.99 492.20,117.20 493.10,116.10 494.00,116.28 494.90,116.70 495.80,117.26 496.70,116.77 497.60,116.78 498.50,116.62 499.40,116.12 500.30,116.21 501.20,115.95 502.10,115.65 503.00,115.70 503.98,115.63 504.96,115.74 505.95,115.33 506.93,115.16 507.91,115.47 508.89,115.34 509.87,115.34 510.85,115.66 511.84,115.21 512.82,115.07 513.80,115.00 514.70,114.63 515.60,114.33 516.50,114.85 517.40,114.76 518.30,114.60 519.20,114.48 520.10,113.91 521.00,114.18 521.90,113.97 522.80,114.02 523.70,113.46 524.60,113.50 525.73,113.98 526.87,113.94 528.00,113.50 529.10,111.52 530.20,110.30 531.28,109.07 532.35,107.91 533.42,106.91 534.50,105.50 535.43,106.34 536.36,105.49 537.29,106.88 538.21,107.04 539.14,106.89 540.07,107.16 541.00,107.70 542.08,108.05 543.15,107.82 544.22,107.84 545.30,108.10 545.50,108.05 545.71,107.98 545.91,107.91 546.12,107.81 546.32,107.70 546.53,107.55 546.73,107.37 546.94,107.15 547.14,106.86 547.35,106.49 547.55,106.03 547.76,105.48 547.96,104.86 548.17,104.27 548.37,103.88 548.58,103.90 548.78,104.91 548.99,106.16 549.19,107.09 549.40,107.70 549.60,108.10 550.58,108.07 551.56,109.11 552.55,107.66 553.53,109.26 554.51,108.00 555.49,109.16 556.47,108.62 557.45,108.94 558.44,108.76 559.42,108.97 560.40,109.20 561.50,109.19 562.60,107.79 563.70,106.66 564.80,107.00 565.88,107.01 566.95,106.35 568.02,107.22 569.10,107.70 569.30,107.32 569.51,106.93 569.71,106.52 569.92,106.11 570.12,105.67 570.33,105.22 570.53,104.74 570.73,104.23 570.94,103.69 571.14,103.09 571.35,102.42 571.55,101.67 571.75,100.80 571.96,99.79 572.16,98.60 572.37,97.17 572.57,95.49 572.77,93.59 572.98,91.64 573.18,90.00 573.39,89.12 573.59,93.09 573.80,97.88 574.00,100.00"/>
<polyline points="580.60,3.00 581.80,95.00 583.20,103.80 584.25,106.26 585.30,108.10 586.25,108.58 587.20,107.70 588.15,107.61 589.10,108.05 590.05,108.54 591.00,107.97 591.95,107.30 592.90,107.70 593.10,107.70 593.30,107.70 593.50,107.69 593.70,107.69 593.91,107.69 594.11,107.69 594.31,107.68 594.51,107.68 594.71,107.68 594.91,107.67 595.11,107.67 595.31,107.67 595.52,107.66 595.72,107.66 595.92,107.65 596.12,107.64 596.32,107.64 596.52,107.63 596.72,107.62 596.92,107.61 597.12,107.60 597.33,107.58 597.53,107.57 597.73,107.55 597.93,107.53 598.13,107.51 598.33,107.48 598.53,107.45 598.73,107.41 598.93,107.36 599.14,107.31 599.34,107.24 599.54,107.15 599.74,107.05 599.94,106.91 600.14,106.74 600.34,106.52 600.54,106.25 600.75,105.93 600.95,105.57 601.15,105.21 601.35,104.96 601.55,104.91 601.75,105.07 601.95,105.38 602.15,105.75 602.35,106.10 602.56,106.40 602.76,106.64 602.96,106.83 603.16,106.98 603.36,107.10 603.56,107.20 603.76,107.27 603.96,107.34 604.17,107.39 604.37,107.43 604.57,107.46 604.77,107.49 604.97,107.52 605.17,107.54 605.37,107.56 605.57,107.58 605.77,107.59 605.98,107.60 606.18,107.61 606.38,107.62 606.58,107.63 606.78,107.64 606.98,107.65 607.18,107.65 607.38,107.66 607.58,107.66 607.79,107.67 607.99,107.67 608.19,107.67 608.39,107.68 608.59,107.68 608.79,107.68 608.99,107.69 609.19,107.69 609.40,107.69 609.60,107.69 609.80,107.70 610.00,107.70 610.20,107.70 611.28,107.93 612.36,108.73 613.44,109.65 614.52,109.79 615.60,110.30 615.80,110.16 616.01,109.99 616.21,109.77 616.42,109.49 616.62,109.13 616.83,108.68 617.03,108.14 617.24,107.53 617.44,106.93 617.65,106.51 617.85,106.41 618.06,106.70 618.26,107.24 618.47,107.87 618.67,108.47 618.88,108.97 619.08,109.37 619.29,109.69 619.49,109.94 619.70,110.14 619.90,110.30 620.93,109.74 621.97,109.36 623.00,109.00 623.20,108.88 623.41,108.73 623.61,108.54 623.81,108.32 624.02,108.05 624.22,107.71 624.42,107.30 624.62,106.79 624.83,106.15 625.03,105.34 625.23,104.31 625.44,103.00 625.64,101.33 625.84,99.21 626.05,96.57 626.25,93.49 626.45,90.23 626.65,87.49 626.86,86.14 627.06,86.80 627.26,89.29 627.47,92.69 627.67,96.17 627.87,99.26 628.08,101.81 628.28,103.85 628.48,105.46 628.68,106.75 628.89,107.77 629.09,108.60 629.29,109.28 629.50,109.83 629.70,110.30 630.63,110.62 631.56,110.51 632.49,111.04 633.41,111.39 634.34,112.17 635.27,111.75 636.20,112.00 637.16,112.32 638.11,111.48 639.07,112.15 640.02,111.81 640.98,111.47 641.93,111.60 642.89,111.90 643.84,111.35 644.80,111.40 645.00,111.11 645.21,110.76 645.41,110.35 645.61,109.84 645.82,109.23 646.02,108.48 646.22,107.55 646.43,106.38 646.63,104.91 646.83,103.03 647.04,100.65 647.24,97.64 647.44,93.91 647.65,89.53 647.85,84.92 648.05,81.01 648.26,79.06 648.46,79.95 648.66,83.42 648.87,88.19 649.07,93.07 649.27,97.38 649.48,100.94 649.68,103.78 649.88,106.03 650.09,107.80 650.29,109.21 650.49,110.34 650.70,111.25 650.90,112.00 651.81,112.57 652.72,112.91 653.63,113.10 654.54,113.25 655.45,112.26 656.36,113.05 657.27,112.80 658.18,113.58 659.09,113.39 660.00,113.50 660.92,113.60 661.83,113.69 662.75,113.28 663.67,113.55 664.58,113.23 665.50,114.33 666.42,113.33 667.33,113.52 668.25,112.82 669.17,112.93 670.08,113.19 671.00,113.50"/>
<polyline points="386.20,151.70 387.30,150.73 388.40,150.40 389.40,150.25 390.40,150.84 391.40,150.20 392.70,150.11 394.00,149.80 394.70,148.30 395.10,147.50 395.50,148.30 396.30,150.00 397.55,149.88 398.80,149.60 399.01,149.54 399.22,149.47 399.43,149.38 399.64,149.28 399.85,149.14 400.06,148.97 400.27,148.76 400.48,148.48 400.69,148.13 400.90,147.69 401.11,147.16 401.32,146.59 401.53,146.09 401.74,145.82 401.95,146.08 402.16,147.06 402.37,148.05 402.58,148.78 402.79,149.27 403.00,149.60 403.94,149.86 404.88,149.06 405.82,149.82 406.76,149.88 407.70,149.40 407.90,149.27 408.10,149.11 408.30,148.91 408.50,148.66 408.70,148.34 408.90,147.95 409.10,147.44 409.30,146.81 409.50,146.02 409.70,145.09 409.90,144.07 410.10,143.15 410.30,142.58 410.50,142.62 410.70,143.47 410.90,144.75 411.10,146.03 411.30,147.12 411.50,147.97 411.70,148.63 411.90,149.12 412.10,149.50 413.07,149.07 414.03,149.95 415.00,148.30 415.50,146.50 415.90,145.00 416.40,146.50 417.00,149.30 417.90,149.15 418.80,149.11 419.70,149.16 420.60,149.31 421.50,148.80 423.20,147.20 423.70,146.50 424.30,147.50 425.50,149.60 426.47,150.45 427.43,149.28 428.40,150.20 429.33,149.68 430.26,150.77 431.19,150.10 432.12,150.05 433.06,150.17 433.99,150.92 434.92,150.31 435.85,149.88 436.78,149.60 437.71,149.65 438.64,149.96 439.57,149.65 440.51,149.55 441.44,150.56 442.37,150.50 443.30,150.20 444.23,149.88 445.15,150.81 446.07,150.29 447.00,149.81 447.93,150.24 448.85,150.08 449.78,149.62 450.70,150.48 451.62,149.24 452.55,150.12 453.48,149.57 454.40,150.14 455.33,149.86 456.25,150.12 457.18,148.75 458.10,149.50 459.09,149.35 460.08,149.78 461.07,149.08 462.06,150.00 463.04,149.45 464.03,149.39 465.02,148.72 466.01,147.86 467.00,148.70 468.10,148.23 469.20,147.59 470.30,147.36 471.40,146.50 472.90,144.30 473.80,145.45 474.70,147.00 475.65,147.29 476.60,148.70 477.70,148.31 478.80,147.81 479.90,147.98 481.00,148.30 481.20,148.22 481.41,148.13 481.61,148.03 481.81,147.92 482.02,147.81 482.22,147.68 482.43,147.53 482.63,147.37 482.83,147.18 483.04,146.95 483.24,146.68 483.44,146.36 483.65,145.97 483.85,145.48 484.05,144.87 484.26,144.12 484.46,143.22 484.66,142.23 484.87,141.29 485.07,140.65 485.27,140.57 485.48,141.47 485.68,142.89 485.89,144.24 486.09,145.29 486.29,146.07 486.50,146.61 486.70,147.00 487.62,146.97 488.53,147.04 489.45,147.27 490.37,146.71 491.28,147.31 492.20,147.00 493.10,146.88 494.00,146.28 494.90,146.36 495.80,146.64 496.70,146.31 497.60,146.22 498.50,146.58 499.40,145.78 500.30,146.12 501.20,145.80 502.10,145.45 503.00,146.00 503.98,145.88 504.96,146.38 505.95,145.73 506.93,145.56 507.91,146.32 508.89,145.99 509.87,145.93 510.85,146.13 511.84,145.69 512.82,145.54 513.80,145.50 514.70,145.76 515.60,145.35 516.50,144.52 517.40,145.35 518.30,144.89 519.20,145.39 520.10,144.54 521.00,143.59 521.90,144.24 522.80,144.01 523.70,144.68 524.60,143.80 525.73,144.32 526.87,144.42 528.00,143.80 529.00,142.78 530.00,142.00 530.90,141.50 531.80,141.46 532.70,139.81 533.60,139.78 534.50,139.00 535.43,139.71 536.36,139.21 537.29,139.68 538.21,138.90 539.14,140.56 540.07,139.79 541.00,140.50 542.00,140.83 543.00,140.29 544.00,139.44 545.00,140.00 545.97,138.58 546.93,137.91 547.90,137.70 549.60,141.20 550.58,141.03 551.56,141.75 552.55,141.27 553.53,141.59 554.51,140.93 555.49,141.74 556.47,141.55 557.45,141.74 558.44,141.96 559.42,142.48 560.40,142.10 561.50,141.91 562.60,141.47 563.70,140.89 564.80,140.50 565.88,140.31 566.95,140.68 568.02,140.65 569.10,140.50 569.30,140.22 569.51,139.93 569.71,139.64 569.92,139.33 570.12,139.01 570.33,138.68 570.53,138.32 570.73,137.94 570.94,137.53 571.14,137.07 571.35,136.56 571.55,135.99 571.75,135.32 571.96,134.53 572.16,133.59 572.37,132.47 572.57,131.14 572.77,129.64 572.98,128.09 573.18,126.80 573.39,126.12 573.59,129.35 573.80,133.26 574.00,135.00"/>
<polyline points="580.30,128.20 581.50,136.00 583.20,143.80 584.25,144.54 585.30,144.90 586.25,144.73 587.20,144.05 588.15,144.72 589.10,144.28 590.05,144.11 591.00,143.85 591.95,144.26 592.90,143.40 593.86,143.59 594.81,143.53 595.77,142.69 596.72,142.42 597.68,141.98 598.63,142.10 599.59,140.86 600.54,142.50 601.50,141.60 602.47,141.87 603.43,142.04 604.40,142.58 605.37,142.25 606.33,142.71 607.30,143.14 608.27,142.34 609.23,143.95 610.20,143.40 611.28,143.99 612.36,144.71 613.44,144.53 614.52,145.22 615.60,146.00 615.81,145.77 616.01,145.47 616.22,145.08 616.42,144.58 616.63,143.94 616.84,143.21 617.04,142.52 617.25,142.12 617.46,142.24 617.66,142.82 617.87,143.54 618.08,144.19 618.28,144.69 618.49,145.05 618.69,145.31 618.90,145.50 619.93,145.90 620.97,144.61 622.00,144.50 622.20,144.43 622.40,144.35 622.60,144.26 622.80,144.14 623.00,144.01 623.20,143.84 623.40,143.64 623.60,143.40 623.80,143.10 624.00,142.73 624.20,142.27 624.40,141.71 624.60,140.99 624.80,140.08 625.00,138.93 625.20,137.47 625.40,135.63 625.60,133.38 625.80,130.80 626.00,128.20 626.20,126.17 626.40,125.40 626.60,126.28 626.80,128.52 627.00,131.37 627.20,134.18 627.40,136.65 627.60,138.68 627.80,140.31 628.00,141.60 628.20,142.63 628.40,143.46 628.60,144.13 628.80,144.67 629.00,145.12 629.20,145.50 630.20,145.55 631.20,146.14 632.20,146.76 633.20,145.33 634.20,147.21 635.20,146.91 636.20,147.00 637.16,147.39 638.11,146.57 639.07,147.14 640.02,147.70 640.98,146.97 641.93,146.74 642.89,146.82 643.84,146.78 644.80,147.00 645.00,146.52 645.20,145.94 645.40,145.23 645.60,144.36 645.80,143.26 646.00,141.89 646.20,140.16 646.40,137.97 646.60,135.22 646.80,131.88 647.00,128.06 647.20,124.20 647.40,121.17 647.60,120.00 647.80,121.19 648.00,124.28 648.20,128.20 648.40,132.10 648.60,135.50 648.80,138.29 649.00,140.52 649.20,142.29 649.40,143.68 649.60,144.80 649.80,145.69 650.00,146.41 650.20,147.00 651.18,147.42 652.16,147.23 653.14,147.01 654.12,147.63 655.10,146.89 656.08,146.81 657.06,148.55 658.04,147.30 659.02,148.34 660.00,147.70 660.92,147.67 661.83,147.61 662.75,147.93 663.67,147.34 664.58,147.35 665.50,147.62 666.42,147.54 667.33,148.02 668.25,148.54 669.17,147.20 670.08,147.33 671.00,147.70"/>
<polyline points="386.20,187.20 387.24,186.21 388.28,187.01 389.32,186.92 390.36,186.46 391.40,186.20 391.60,186.14 391.80,186.08 392.00,186.00 392.20,185.91 392.40,185.81 392.60,185.68 392.80,185.52 393.00,185.32 393.20,185.08 393.40,184.77 393.60,184.39 393.80,183.92 394.00,183.36 394.20,182.75 394.40,182.20 394.60,181.85 394.80,182.04 395.00,183.42 395.20,184.71 395.40,185.52 395.60,186.00 396.85,186.57 398.10,186.00 398.31,185.21 398.53,183.65 398.74,181.67 398.95,181.96 399.16,183.44 399.38,184.70 399.59,185.51 399.80,186.00 400.71,185.82 401.63,186.17 402.54,186.14 403.46,186.14 404.37,185.49 405.29,186.58 406.20,185.70 406.40,185.49 406.61,185.24 406.81,184.93 407.02,184.54 407.22,184.06 407.43,183.45 407.63,182.67 407.84,181.68 408.04,180.47 408.25,179.04 408.45,177.53 408.65,176.25 408.86,175.62 409.06,176.00 409.27,177.39 409.47,179.20 409.68,180.94 409.88,182.40 410.09,183.54 410.29,184.42 410.50,185.09 410.70,185.60 411.63,185.69 412.57,185.86 413.50,185.40 414.00,183.00 414.40,181.00 414.80,183.00 415.40,185.40 416.30,185.60 417.40,185.65 418.50,184.54 419.60,184.50 419.80,184.51 420.01,184.51 420.21,184.50 420.41,184.49 420.62,184.46 420.82,184.43 421.02,184.38 421.23,184.31 421.43,184.21 421.63,184.08 421.84,183.90 422.04,183.67 422.24,183.37 422.45,182.99 422.65,182.54 422.86,182.07 423.06,181.67 423.26,181.50 423.47,181.64 423.67,182.09 423.87,182.68 424.08,183.28 424.28,183.81 424.48,184.25 424.69,184.61 424.89,184.91 425.09,185.14 425.30,185.34 425.50,185.50 426.47,185.20 427.43,185.74 428.40,185.50 429.33,185.44 430.26,185.34 431.19,185.38 432.12,185.72 433.06,185.45 433.99,184.75 434.92,185.44 435.85,185.63 436.78,185.38 437.71,186.05 438.64,184.96 439.57,185.23 440.51,186.12 441.44,185.53 442.37,185.73 443.30,185.50 444.23,185.63 445.15,185.69 446.07,185.56 447.00,184.90 447.93,186.10 448.85,185.14 449.78,185.25 450.70,185.51 451.62,185.54 452.55,185.21 453.48,184.54 454.40,184.56 455.33,185.32 456.25,185.09 457.18,185.33 458.10,184.70 459.04,185.13 459.97,184.40 460.91,184.55 461.85,185.40 462.78,184.25 463.72,183.87 464.65,185.06 465.59,184.08 466.53,184.61 467.46,183.43 468.40,184.00 468.60,183.97 468.80,183.94 469.00,183.90 469.20,183.87 469.40,183.82 469.60,183.78 469.80,183.73 470.00,183.68 470.20,183.61 470.40,183.54 470.60,183.46 470.80,183.36 471.00,183.24 471.20,183.10 471.40,182.92 471.60,182.70 471.80,182.43 472.00,182.09 472.20,181.70 472.40,181.28 472.60,180.89 472.80,180.64 473.00,180.62 473.20,180.84 473.40,181.20 473.60,181.60 473.80,181.97 474.00,182.28 474.20,182.52 474.40,182.71 474.60,182.86 474.80,182.97 475.00,183.06 475.20,183.13 475.40,183.18 475.60,183.22 475.80,183.24 476.00,183.27 476.20,183.28 476.40,183.29 476.60,183.30 477.70,182.91 478.80,183.25 479.90,183.12 481.00,183.00 481.20,182.91 481.41,182.82 481.61,182.72 481.81,182.61 482.02,182.49 482.22,182.35 482.43,182.21 482.63,182.04 482.83,181.84 483.04,181.61 483.24,181.34 483.44,181.01 483.65,180.61 483.85,180.12 484.05,179.50 484.26,178.75 484.46,177.85 484.66,176.85 484.87,175.90 485.07,175.25 485.27,175.17 485.48,176.07 485.68,177.49 485.89,178.84 486.09,179.90 486.29,180.67 486.50,181.21 486.70,181.60 487.62,181.83 488.53,181.92 489.45,181.78 490.37,180.99 491.28,182.11 492.20,181.60 493.10,181.98 494.00,181.56 494.90,181.57 495.80,180.60 496.70,181.55 497.60,181.76 498.50,181.13 499.40,181.41 500.30,181.05 501.20,181.81 502.10,182.08 503.00,181.20 503.98,181.02 504.96,180.86 505.95,180.65 506.93,181.53 507.91,181.12 508.89,180.91 509.87,180.85 510.85,180.41 511.84,180.26 512.82,180.77 513.80,180.50 514.70,180.03 515.60,180.30 516.50,180.13 517.40,180.72 518.30,179.93 519.20,178.78 520.10,179.85 521.00,179.56 521.90,179.58 522.80,178.97 523.70,179.22 524.60,179.00 525.68,178.11 526.76,177.41 527.84,177.69 528.92,176.32 530.00,176.20 530.20,176.16 530.40,176.12 530.60,176.08 530.80,176.04 531.00,175.99 531.20,175.93 531.40,175.87 531.60,175.80 531.80,175.72 532.00,175.63 532.20,175.53 532.40,175.40 532.60,175.25 532.80,175.07 533.00,174.85 533.20,174.57 533.40,174.22 533.60,173.80 533.80,173.30 534.00,172.76 534.20,172.26 534.40,171.95 534.60,171.93 534.80,172.20 535.00,172.64 535.20,173.13 535.40,173.57 535.60,173.95 535.80,174.25 536.00,174.48 536.20,174.66 536.40,174.80 536.60,174.90 536.80,174.98 537.00,175.05 537.20,175.10 537.40,175.13 537.60,175.16 537.80,175.18 538.00,175.19 538.20,175.20 538.40,175.21 538.60,175.21 538.80,175.21 539.00,175.21 539.20,175.20 539.40,175.19 539.60,175.19 539.80,175.18 540.00,175.17 540.20,175.15 540.40,175.14 540.60,175.13 540.80,175.11 541.00,175.10 542.08,175.42 543.15,176.07 544.22,175.58 545.30,175.50 545.50,175.33 545.71,175.12 545.91,174.82 546.12,174.44 546.32,173.95 546.53,173.38 546.73,172.84 546.94,172.52 547.14,172.57 547.35,172.87 547.55,173.31 547.76,173.75 547.96,174.16 548.17,174.49 548.37,174.75 548.58,174.96 548.78,175.12 548.99,175.25 549.19,175.35 549.40,175.43 549.60,175.50 550.58,175.34 551.56,175.42 552.55,175.13 553.53,175.84 554.51,175.90 555.49,175.85 556.47,176.42 557.45,175.77 558.44,176.44 559.42,176.23 560.40,176.20 561.50,175.79 562.60,175.26 563.70,174.64 564.80,174.70 565.70,174.15 566.60,174.05 567.50,173.81 568.40,174.59 569.30,173.41 570.20,173.00 570.41,172.54 570.62,172.03 570.83,171.48 571.04,170.86 571.26,170.15 571.47,169.33 571.68,168.36 571.89,167.19 572.10,165.78 572.31,164.08 572.52,162.11 572.73,160.01 572.94,158.16 573.16,157.08 573.37,159.01 573.58,163.61 573.79,166.53 574.00,168.00"/>
<polyline points="579.50,143.80 580.30,160.00 581.70,171.70 583.20,174.10 584.40,174.40 585.34,174.22 586.29,174.66 587.23,174.95 588.18,175.30 589.12,174.03 590.07,174.31 591.01,174.26 591.96,174.54 592.90,174.70 593.86,174.33 594.81,173.56 595.77,173.88 596.72,172.88 597.68,173.37 598.63,172.47 599.59,172.65 600.54,172.40 601.50,171.90 602.47,172.10 603.43,172.15 604.40,172.32 605.37,172.42 606.33,173.77 607.30,173.62 608.27,174.40 609.23,174.02 610.20,174.10 611.28,174.78 612.35,174.92 613.42,175.58 614.50,176.20 615.60,174.51 616.70,174.10 617.80,175.57 618.90,176.20 619.93,176.05 620.97,175.70 622.00,174.50 622.20,174.41 622.41,174.29 622.61,174.13 622.81,173.94 623.02,173.71 623.22,173.41 623.42,173.03 623.63,172.55 623.83,171.93 624.03,171.15 624.24,170.14 624.44,168.85 624.64,167.20 624.85,165.15 625.05,162.74 625.25,160.20 625.45,158.06 625.66,157.02 625.86,157.58 626.06,159.59 626.27,162.33 626.47,165.12 626.67,167.60 626.88,169.65 627.08,171.30 627.28,172.61 627.49,173.65 627.69,174.49 627.89,175.17 628.10,175.73 628.30,176.20 629.29,176.96 630.27,176.06 631.26,175.58 632.25,177.08 633.24,177.00 634.23,176.63 635.21,176.79 636.20,177.30 637.16,177.52 638.11,177.82 639.07,177.13 640.02,176.53 640.98,177.05 641.93,177.04 642.89,175.95 643.84,176.65 644.80,176.20 645.01,175.37 645.21,174.32 645.42,172.97 645.62,171.24 645.83,169.02 646.03,166.22 646.24,162.81 646.44,158.95 646.65,155.21 646.85,152.60 647.06,152.16 647.26,154.79 647.47,159.36 647.67,164.16 647.88,168.28 648.08,171.52 648.29,173.99 648.49,175.87 648.70,177.30 649.64,176.99 650.58,177.50 651.53,177.79 652.47,177.70 653.41,177.13 654.35,178.02 655.29,177.35 656.23,178.33 657.17,177.33 658.12,178.01 659.06,178.11 660.00,178.40 660.92,178.11 661.83,178.49 662.75,178.51 663.67,179.17 664.58,178.60 665.50,178.87 666.42,177.93 667.33,178.85 668.25,178.77 669.17,178.98 670.08,179.00 671.00,178.40"/>
<polyline points="386.20,211.60 387.10,210.89 388.00,210.80 388.20,210.72 388.41,210.64 388.61,210.54 388.82,210.44 389.02,210.33 389.22,210.20 389.43,210.05 389.63,209.88 389.83,209.68 390.04,209.44 390.24,209.16 390.45,208.81 390.65,208.37 390.85,207.83 391.06,207.15 391.26,206.31 391.47,205.31 391.67,204.20 391.87,203.15 392.08,202.44 392.28,202.49 392.48,204.31 392.69,206.51 392.89,208.15 393.10,209.22 393.30,209.90 394.35,209.90 395.40,209.71 396.45,209.67 397.50,209.90 397.71,209.10 397.92,207.86 398.13,205.96 398.34,203.46 398.55,201.60 398.75,202.15 398.96,204.32 399.17,206.51 399.38,208.11 399.59,209.18 399.80,209.90 400.73,208.83 401.66,210.02 402.59,210.11 403.51,209.96 404.44,209.68 405.37,209.58 406.30,209.70 406.52,208.21 406.74,205.93 406.95,202.49 407.17,197.86 407.39,193.76 407.61,193.76 407.83,197.86 408.05,202.49 408.26,205.93 408.48,208.21 408.70,209.70 410.00,210.13 411.30,209.70 411.51,208.26 411.73,205.41 411.94,201.82 412.15,202.35 412.36,205.03 412.57,207.34 412.79,208.81 413.00,209.70 413.90,210.31 414.80,210.05 415.70,209.66 416.60,209.70 416.78,208.47 416.95,206.09 417.12,202.84 417.30,202.84 417.48,205.27 417.65,207.47 417.82,208.86 418.00,209.70 419.25,209.85 420.50,209.20 421.20,205.20 421.90,208.50 422.50,209.60 423.75,210.79 425.00,210.00 426.13,209.71 427.27,210.41 428.40,209.90 429.33,209.43 430.26,209.49 431.19,210.71 432.12,209.28 433.06,209.51 433.99,209.05 434.92,209.88 435.85,209.15 436.78,209.41 437.71,209.77 438.64,209.53 439.57,210.52 440.51,209.52 441.44,209.37 442.37,209.79 443.30,209.50 444.23,209.28 445.15,209.24 446.07,208.93 447.00,209.27 447.93,209.52 448.85,208.84 449.78,208.95 450.70,208.66 451.62,208.62 452.55,209.33 453.48,208.24 454.40,208.17 455.33,208.11 456.25,207.96 457.18,208.77 458.10,208.70 459.01,208.89 459.92,207.81 460.82,208.74 461.73,208.64 462.64,207.99 463.55,208.04 464.45,207.62 465.36,208.19 466.27,207.78 467.18,207.63 468.08,207.16 468.99,207.19 469.90,207.30 470.90,207.31 471.90,205.66 472.90,205.00 473.80,206.49 474.70,207.30 475.65,206.67 476.60,207.30 477.70,207.33 478.80,207.79 479.90,207.25 481.00,207.00 481.20,206.91 481.41,206.81 481.61,206.70 481.81,206.59 482.02,206.46 482.22,206.33 482.43,206.17 482.63,206.00 482.83,205.80 483.04,205.56 483.24,205.28 483.44,204.95 483.65,204.53 483.85,204.03 484.05,203.40 484.26,202.63 484.46,201.71 484.66,200.69 484.87,199.72 485.07,199.05 485.27,198.97 485.48,199.89 485.68,201.33 485.89,202.70 486.09,203.78 486.29,204.56 486.50,205.11 486.70,205.50 487.62,205.69 488.53,205.42 489.45,205.91 490.37,206.24 491.28,205.93 492.20,205.90 493.10,206.02 494.00,205.80 494.90,205.87 495.80,206.68 496.70,205.29 497.60,205.62 498.50,205.02 499.40,206.00 500.30,205.20 501.20,205.64 502.10,205.08 503.00,205.50 503.98,205.92 504.96,205.71 505.95,205.22 506.93,205.03 507.91,204.91 508.89,204.69 509.87,205.07 510.85,204.33 511.84,204.14 512.82,204.07 513.80,204.30 514.70,204.13 515.60,203.12 516.50,204.17 517.40,203.73 518.30,203.54 519.20,203.32 520.10,203.18 521.00,203.11 521.90,203.00 522.80,202.47 523.70,201.37 524.60,202.20 525.73,202.67 526.87,202.25 528.00,202.20 529.00,201.15 530.00,200.00 530.90,200.12 531.80,199.14 532.70,197.76 533.60,197.50 534.50,196.30 535.75,197.23 537.00,198.00 538.00,198.05 539.00,199.21 540.00,199.52 541.00,200.00 542.08,200.09 543.15,199.41 544.22,199.54 545.30,200.00 545.50,199.75 545.70,199.36 545.90,198.78 546.10,198.00 546.30,197.31 546.50,197.31 546.70,198.00 546.90,198.78 547.10,199.36 547.30,199.75 547.50,200.00 548.55,199.80 549.60,200.00 550.58,200.40 551.56,200.60 552.55,200.33 553.53,200.44 554.51,199.90 555.49,200.52 556.47,200.59 557.45,200.88 558.44,200.06 559.42,200.62 560.40,200.70 561.50,200.63 562.60,199.97 563.70,199.41 564.80,198.50 565.70,198.37 566.60,197.63 567.50,196.65 568.40,196.68 569.30,196.00 570.20,195.70 570.41,194.75 570.62,193.64 570.84,192.35 571.05,190.80 571.26,188.91 571.47,186.59 571.68,183.72 571.89,180.19 572.11,176.02 572.32,171.52 572.53,167.51 572.74,165.20 572.95,167.60 573.16,175.96 573.38,183.05 573.59,187.45 573.80,190.00"/>
<polyline points="579.50,162.20 580.50,180.00 581.00,181.60 582.10,196.80 583.15,198.97 584.20,201.10 585.17,201.69 586.13,201.73 587.10,202.10 588.07,201.65 589.03,202.21 590.00,202.19 590.97,201.78 591.93,202.71 592.90,202.20 593.83,201.76 594.76,201.03 595.69,201.09 596.61,200.62 597.54,200.43 598.47,200.72 599.40,200.00 600.36,200.24 601.31,201.27 602.27,200.65 603.22,201.28 604.18,201.28 605.13,200.74 606.09,201.81 607.04,202.20 608.00,202.20 608.93,203.00 609.86,202.33 610.79,203.62 611.71,204.01 612.64,203.40 613.57,204.24 614.50,204.30 615.60,203.88 616.70,202.20 617.80,203.14 618.90,205.50 619.93,205.29 620.97,203.64 622.00,204.00 622.20,203.58 622.41,203.05 622.61,202.40 622.81,201.57 623.02,200.52 623.22,199.19 623.43,197.48 623.63,195.30 623.83,192.61 624.04,189.43 624.24,186.05 624.44,183.15 624.65,181.66 624.85,182.21 625.06,184.56 625.26,187.85 625.46,191.24 625.67,194.24 625.87,196.73 626.07,198.72 626.28,200.30 626.48,201.55 626.69,202.55 626.89,203.35 627.09,204.01 627.30,204.55 627.50,205.00 628.47,205.26 629.43,205.94 630.40,205.24 631.37,205.74 632.33,204.84 633.30,205.39 634.27,205.56 635.23,206.25 636.20,205.90 637.14,205.81 638.08,206.22 639.01,205.79 639.95,205.47 640.89,205.79 641.83,205.79 642.76,205.50 643.70,205.50 643.91,204.47 644.12,203.17 644.33,201.52 644.54,199.41 644.75,196.71 644.96,193.31 645.17,189.20 645.38,184.63 645.59,180.36 645.80,177.67 646.00,177.67 646.21,180.36 646.42,184.63 646.63,189.20 646.84,193.31 647.05,196.71 647.26,199.41 647.47,201.52 647.68,203.17 647.89,204.47 648.10,205.50 649.02,205.99 649.93,205.37 650.85,205.89 651.76,206.15 652.68,205.69 653.59,206.02 654.51,206.09 655.42,205.54 656.34,206.94 657.25,206.19 658.17,206.65 659.08,205.10 660.00,206.50 660.92,207.02 661.83,206.26 662.75,206.03 663.67,206.38 664.58,206.86 665.50,205.66 666.42,206.87 667.33,205.83 668.25,206.91 669.17,206.57 670.08,206.95 671.00,206.50"/>
</g>
</g>
<line x1="322.3" y1="0" x2="322.3" y2="216" stroke="#f1f1f1" stroke-width="1"/>
<g fill="none" stroke="#000" stroke-width="1.7">
<rect x="33.00" y="3.90" width="286.10" height="211.70"/>
<rect x="386.00" y="3.10" width="285.60" height="211.80"/>
</g>
<g stroke="#000" stroke-width="1.3">
<line x1="47.38" y1="215.60" x2="47.38" y2="218.60"/>
<line x1="69.40" y1="215.60" x2="69.40" y2="220.60"/>
<line x1="91.42" y1="215.60" x2="91.42" y2="218.60"/>
<line x1="113.43" y1="215.60" x2="113.43" y2="220.60"/>
<line x1="135.45" y1="215.60" x2="135.45" y2="218.60"/>
<line x1="157.46" y1="215.60" x2="157.46" y2="220.60"/>
<line x1="179.48" y1="215.60" x2="179.48" y2="218.60"/>
<line x1="201.49" y1="215.60" x2="201.49" y2="220.60"/>
<line x1="223.51" y1="215.60" x2="223.51" y2="218.60"/>
<line x1="245.52" y1="215.60" x2="245.52" y2="220.60"/>
<line x1="267.54" y1="215.60" x2="267.54" y2="218.60"/>
<line x1="289.56" y1="215.60" x2="289.56" y2="220.60"/>
<line x1="311.57" y1="215.60" x2="311.57" y2="218.60"/>
<line x1="399.88" y1="214.90" x2="399.88" y2="217.90"/>
<line x1="422.00" y1="214.90" x2="422.00" y2="219.90"/>
<line x1="444.12" y1="214.90" x2="444.12" y2="217.90"/>
<line x1="466.24" y1="214.90" x2="466.24" y2="219.90"/>
<line x1="488.36" y1="214.90" x2="488.36" y2="217.90"/>
<line x1="510.48" y1="214.90" x2="510.48" y2="219.90"/>
<line x1="532.60" y1="214.90" x2="532.60" y2="217.90"/>
<line x1="554.72" y1="214.90" x2="554.72" y2="219.90"/>
<line x1="576.84" y1="214.90" x2="576.84" y2="217.90"/>
<line x1="598.96" y1="214.90" x2="598.96" y2="219.90"/>
<line x1="621.08" y1="214.90" x2="621.08" y2="217.90"/>
<line x1="643.20" y1="214.90" x2="643.20" y2="219.90"/>
<line x1="665.33" y1="214.90" x2="665.33" y2="217.90"/>
</g>
<g font-family="Liberation Sans, sans-serif" fill="#111" stroke="#111" stroke-width="0.3" style="will-change:opacity" opacity="0.999">
<g font-size="10.5">
<text x="78.8" y="31.2">9.7 GPa</text>
<text x="79.6" y="55.2">7.9 GPa</text>
<text x="80.7" y="82.4">5.9 GPa</text>
<text x="80.2" y="106.9">3.9 GPa</text>
<text x="79.2" y="140.4">1.8 GPa</text>
<text x="79.2" y="170.2">1.5 GPa</text>
<text x="80.0" y="200.2">ambient</text>
<text x="424.9" y="40.6">20.0 GPa</text>
<text x="425.3" y="80.9">18.0 GPa</text>
<text x="424.9" y="119.1">16.5 GPa</text>
<text x="424.7" y="147.2">15.0 GPa</text>
<text x="425.4" y="182.9">13.7 GPa</text>
<text x="424.5" y="208.2">11.5 GPa</text>
</g>
<g font-size="11.8">
<g font-size="11.8">
<text x="69.40" y="232.9" text-anchor="middle">300</text>
<text x="113.43" y="232.9" text-anchor="middle">600</text>
<text x="157.46" y="232.9" text-anchor="middle">900</text>
<text x="201.49" y="232.9" text-anchor="middle">1200</text>
<text x="245.52" y="232.9" text-anchor="middle">1500</text>
<text x="289.56" y="232.9" text-anchor="middle">1800</text>
</g>
<g font-size="13.0">
<text x="422.00" y="232.9" text-anchor="middle">300</text>
<text x="466.24" y="232.9" text-anchor="middle">600</text>
<text x="510.48" y="232.9" text-anchor="middle">900</text>
<text x="554.72" y="232.9" text-anchor="middle">1200</text>
<text x="598.96" y="232.9" text-anchor="middle">1500</text>
<text x="643.20" y="232.9" text-anchor="middle">1800</text>
</g>
</g>
<g font-size="13.25">
<text x="119.4" y="257.2">wavenumber (cm<tspan font-size="7.6" dx="0.9" dy="-6.2">-1</tspan><tspan dx="0.4" dy="6.2">)</tspan></text>
<text x="471.2" y="257.2">Raman shifts (cm<tspan font-size="7.6" dx="0.9" dy="-6.2">-1</tspan><tspan dx="0.4" dy="6.2">)</tspan></text>
</g>
<text font-size="12.6" transform="translate(12.1,109.7) rotate(-90)" text-anchor="middle">Intensity (arb.units)</text>
<text font-size="13.4" transform="translate(364.7,111.3) rotate(-90)" text-anchor="middle">Intensity (arb.units)</text>
</g>
</svg>
</body></html>
